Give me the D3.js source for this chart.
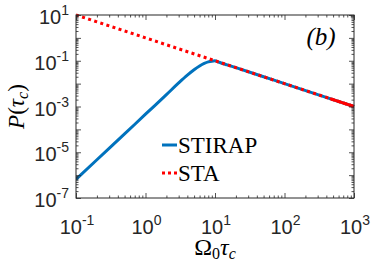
<!DOCTYPE html>
<html><head><meta charset="utf-8">
<script src="https://cdn.jsdelivr.net/npm/d3@7"></script>
<style>body{margin:0;background:#fff}svg{display:block}
.serif{font-family:"Liberation Serif","Tinos","Times New Roman","DejaVu Serif",serif}
.sans{font-family:"Liberation Sans",Arial,Helvetica,sans-serif}
</style>
</head><body>
<script>
// ---- data ----
const stirapX = [0.1, 0.2, 0.5, 1, 2, 3, 4, 5, 6, 7, 8, 9, 10, 11, 12, 15, 20, 50, 100, 1000];
const stirapY = [6.5e-7, 4.7e-6, 6.3e-5, 4.6e-4, 3.3e-3, 1.07e-2, 2.35e-2, 4.05e-2, 5.9e-2, 7.6e-2, 8.9e-2, 9.6e-2, 9.9e-2, 9.0e-2, 8.2e-2, 6.6e-2, 5.0e-2, 2.0e-2, 1.0e-2, 1.0e-3];
const staX = [0.1, 1, 10, 100, 1000];
const staY = [10, 1, 0.1, 0.01, 0.001];
const staDenseX = [450, 1000];
const staDenseY = [0.00222, 0.001];
const xTickExp = [-1, 0, 1, 2, 3];
const yTickExp = [1, -1, -3, -5, -7];
const seriesNames = ["STIRAP", "STA"];

const W = 374, H = 261;
const m = {l: 76, r: 354, t: 15, b: 198};
const svg = d3.select("body").append("svg").attr("width", W).attr("height", H);
const x = d3.scaleLog().domain([0.1, 1000]).range([m.l, m.r]);
const y = d3.scaleLog().domain([1e-7, 10]).range([m.b, m.t]);
const axisColor = "#262626";

// lines
const lineGen = d3.line().x(d => x(d[0])).y(d => y(d[1])).curve(d3.curveMonotoneX);
svg.append("clipPath").attr("id", "c").append("rect")
  .attr("x", m.l).attr("y", m.t - 2).attr("width", m.r - m.l + 2).attr("height", m.b - m.t + 2);
const g = svg.append("g").attr("clip-path", "url(#c)");
g.append("path").attr("d", lineGen(d3.zip(stirapX, stirapY)))
  .attr("fill", "none").attr("stroke", "#0072BD").attr("stroke-width", 3);
g.append("path").attr("d", d3.line().x(d => x(d[0])).y(d => y(d[1]))(d3.zip(staX, staY)))
  .attr("fill", "none").attr("stroke", "#FF0000").attr("stroke-width", 3)
  .attr("stroke-dasharray", "3,3.4");
g.append("path").attr("d", d3.line().x(d => x(d[0])).y(d => y(d[1]))(d3.zip(staDenseX, staDenseY)))
  .attr("fill", "none").attr("stroke", "#FF0000").attr("stroke-width", 3);

// axes box + ticks (inward, all four sides)
const xMinor = [], yMinor = [];
for (let e = -1; e < 3; e++) for (let k = 2; k <= 9; k++) xMinor.push(k * Math.pow(10, e));
for (let e = -7; e < 1; e++) for (let k = 2; k <= 9; k++) yMinor.push(k * Math.pow(10, e));
const xMajor = d3.range(-1, 4).map(e => Math.pow(10, e));
const yMajor = d3.range(-7, 2).map(e => Math.pow(10, e));

function tickAxis(axis, sel, tickVals, len) {
  sel.call(axis.tickValues(tickVals).tickSize(len).tickFormat(""));
  sel.select(".domain").remove();
  sel.selectAll("line").attr("stroke", axisColor).attr("stroke-width", 0.8);
}
const MJ = 5, MN = 2.5;
tickAxis(d3.axisTop(x), svg.append("g").attr("transform", `translate(0,${m.b})`), xMajor, MJ);
tickAxis(d3.axisTop(x), svg.append("g").attr("transform", `translate(0,${m.b})`), xMinor, MN);
tickAxis(d3.axisBottom(x), svg.append("g").attr("transform", `translate(0,${m.t})`), xMajor, MJ);
tickAxis(d3.axisBottom(x), svg.append("g").attr("transform", `translate(0,${m.t})`), xMinor, MN);
tickAxis(d3.axisRight(y), svg.append("g").attr("transform", `translate(${m.l},0)`), yMajor, MJ);
tickAxis(d3.axisRight(y), svg.append("g").attr("transform", `translate(${m.l},0)`), yMinor, MN);
tickAxis(d3.axisLeft(y), svg.append("g").attr("transform", `translate(${m.r},0)`), yMajor, MJ);
tickAxis(d3.axisLeft(y), svg.append("g").attr("transform", `translate(${m.r},0)`), yMinor, MN);
svg.append("rect").attr("x", m.l).attr("y", m.t).attr("width", m.r - m.l).attr("height", m.b - m.t)
  .attr("fill", "none").attr("stroke", axisColor).attr("stroke-width", 1);

// tick labels
function powLabel(sel, e) {
  sel.append("tspan").text("10");
  sel.append("tspan").attr("font-size", 14).attr("dy", -9).text(String(e));
}
xTickExp.forEach(e => {
  const t = svg.append("text").attr("class", "sans").attr("x", x(Math.pow(10, e)) + 1).attr("y", 234)
    .attr("text-anchor", "middle").attr("font-size", 20).attr("fill", axisColor);
  powLabel(t, e);
});
yTickExp.forEach(e => {
  const t = svg.append("text").attr("class", "sans").attr("x", 69).attr("y", y(Math.pow(10, e)) + 9)
    .attr("text-anchor", "end").attr("font-size", 20).attr("fill", axisColor);
  powLabel(t, e);
});

// axis labels
const xl = svg.append("text").attr("class", "serif").attr("x", 215).attr("y", 255).attr("text-anchor", "middle")
  .attr("font-size", 24).attr("fill", "#000");
xl.append("tspan").text("Ω");
xl.append("tspan").attr("font-size", 16).attr("dy", 4).text("0");
xl.append("tspan").attr("font-style", "italic").attr("dy", -4).text("τ");
xl.append("tspan").attr("font-style", "italic").attr("font-size", 16).attr("dy", 4).text("c");

const yl = svg.append("text").attr("class", "serif").attr("transform", `translate(24,${(m.t + m.b) / 2}) rotate(-90)`)
  .attr("text-anchor", "middle").attr("font-size", 23).attr("fill", "#000");
yl.append("tspan").attr("font-style", "italic").text("P");
yl.append("tspan").text("(");
yl.append("tspan").attr("font-style", "italic").text("τ");
yl.append("tspan").attr("font-style", "italic").attr("font-size", 16).attr("dy", 4).text("c");
yl.append("tspan").attr("dy", -4).text(")");

// panel tag
svg.append("text").attr("class", "serif").attr("x", 321).attr("y", 45).attr("text-anchor", "middle")
  .attr("font-style", "italic").attr("font-size", 25).text("(b)");

// legend
const leg = svg.append("g");
const legY = [145, 173];
const legStyles = [{c: "#0072BD", d: null}, {c: "#FF0000", d: "3,3"}];
seriesNames.forEach((n, i) => {
  leg.append("line").attr("x1", 162).attr("x2", 177).attr("y1", legY[i]).attr("y2", legY[i])
    .attr("stroke", legStyles[i].c).attr("stroke-width", 3).attr("stroke-dasharray", legStyles[i].d);
  leg.append("text").attr("class", "serif").attr("x", 178).attr("y", legY[i] + 7.5)
    .attr("font-size", 23).attr("fill", "#000").text(n);
});
</script>
</body></html>
